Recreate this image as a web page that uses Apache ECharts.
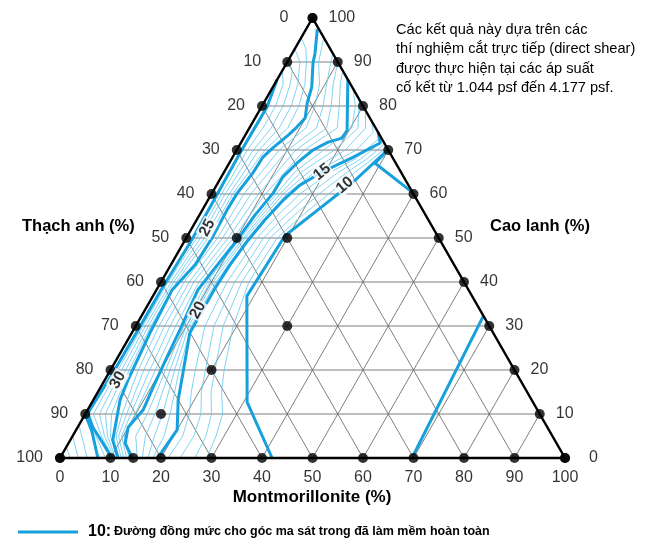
<!DOCTYPE html>
<html><head><meta charset="utf-8">
<script src="https://cdn.jsdelivr.net/npm/echarts@6/dist/echarts.min.js"></script>
<style>html,body{margin:0;padding:0;background:#fff}#c{width:661px;height:554px}</style>
</head><body><div id="c"></div>
<script>
// ---------- DATA (ternary points as [Montmorillonite %, Kaolin %]) ----------
const tickValues = [0,10,20,30,40,50,60,70,80,90,100];
const tickLabels = ['0','10','20','30','40','50','60','70','80','90','100'];
const gridValues = [10,20,30,40,50,60,70,80,90];
const samplePoints = [[10,50],[20,50],[30,30],[20,20],[15,10],[14.5,0]];

const contour10 = [[42,0],[30.7,12.7],[18.6,36.8],[19.3,50.5],[23.1,56.8],[26.6,62.5],[29.8,69.8],[28.9,67],[39.7,60.3]];
const contour10Right = [[69.7,0],[67.7,32.3]];
const contour15 = [[19.4,0],[19.5,1.8],[20,6.4],[16.8,13.2],[14.7,19.3],[11.5,28.4],[11.4,38.2],[11.7,43.9],[12.5,49.5],[13.5,54.1],[14.9,58.6],[16.5,62],[19.4,65],[23.7,68.2],[27.6,71.6],[26,74]];
const contour20 = [[14.3,0],[11.2,3.4],[10,7],[11,10.9],[10.4,16.1],[9.7,23],[9.2,29.1],[8.2,38.2],[9,42.7],[10.3,49.5],[11,55.2],[12.1,60.2],[12.2,63.9],[13.4,67],[15.1,70],[17.2,71.8],[19.5,72.7],[19.6,74.5],[14,86]];
const contour25 = [[11.5,0],[8.4,4.1],[5.3,13.2],[4.6,17.7],[3.6,28.4],[3.1,38.2],[4.8,43.9],[5.1,50],[4.9,56.4],[5,60.2],[5.8,64.8],[6,68.4],[6.9,70.5],[8.5,73.4],[9.3,75.2],[9.9,77.3],[8.6,80.7],[7.7,84.3],[5.2,89.8],[4.5,92],[2.2,97.5]];
const contour30 = [[10.3,0],[7.2,3],[3,7],[0.4,10.2],[0.8,19.5],[0.9,29.8],[0.9,38.2],[1.3,49.5],[1.2,57],[1.0,69.3],[1.1,79.8],[0,86]];
const contour35 = [[7.5,0],[3.4,5.9],[0,10]];

const thin11 = [[29.1,0],[28.4,5],[27.2,10],[24.5,15],[22.5,20],[19.3,30],[17.4,40],[18.0,50],[20.3,55],[23.2,60],[26.0,65],[27.9,68],[29.4,70.6]];
const thin12 = [[26.7,0],[26.4,5],[25.0,10],[22.4,15],[20.7,20],[17.3,30],[16.0,40],[16.6,50],[18.7,55],[21.3,60],[24.4,65],[26.8,68],[28.6,71.4]];
const thin13 = [[23.8,0],[24.0,5],[22.9,10],[20.5,15],[18.8,20],[15.5,30],[14.6,40],[15.3,50],[17.1,55],[19.4,60],[22.7,65],[25.6,68],[27.8,72.2]];
const thin14 = [[21.4,0],[21.8,5],[20.6,10],[18.5,15],[16.8,20],[13.7,30],[13.1,40],[14.0,50],[15.5,55],[17.5,60],[21.1,65],[24.5,68],[27,73]];
const thin16 = [[18.4,0],[18.1,5],[16.8,10],[13.6,20],[11.0,30],[10.9,40],[12.2,50],[14.9,60],[18.0,65],[23.7,70],[25.0,74],[23.5,76.5]];
const thin17 = [[17.4,0],[16.2,5],[15.3,10],[12.7,20],[10.5,30],[10.3,40],[11.7,50],[14.2,60],[16.7,65],[21.5,70],[23.0,75],[21,79]];
const thin18 = [[16.3,0],[14.4,5],[13.8,10],[11.8,20],[10.0,30],[9.7,40],[11.3,50],[13.5,60],[15.3,65],[19.4,70],[21.5,75],[18.5,81.5]];
const thin19 = [[15.3,0],[12.5,5],[12.3,10],[10.9,20],[9.5,30],[9.1,40],[10.8,50],[12.8,60],[14.0,65],[17.2,70],[20.3,75],[18.5,80],[16,84]];
const thin21 = [[13.7,0],[10.2,5],[9.9,10],[8.9,20],[7.9,30],[7.5,40],[9.3,50],[10.7,60],[13.4,70],[17.4,75],[15.3,80],[13.0,85],[12,88]];
const thin22 = [[13.2,0],[9.7,5],[9.0,10],[7.8,20],[6.8,30],[6.5,40],[8.3,50],[9.3,60],[11.7,70],[15.3,75],[13.7,80],[11.6,85],[10,90]];
const thin23 = [[12.6,0],[9.1,5],[8.2,10],[6.6,20],[5.7,30],[5.6,40],[7.2,50],[7.8,60],[10.1,70],[13.3,75],[12.1,80],[10.3,85],[8,92]];
const thin24 = [[12.1,0],[8.6,5],[7.3,10],[5.5,20],[4.6,30],[4.6,40],[6.2,50],[6.4,60],[8.4,70],[11.2,75],[10.5,80],[8.9,85],[6.2,90],[4.5,95.5]];
const thin26 = [[11.3,0],[7.5,5],[5.2,10],[3.7,20],[3.0,30],[3.1,40],[4.3,50],[4.2,60],[5.6,70],[7.6,75],[7.3,80],[6.0,85],[3.8,90],[2.2,93],[0,95.5]];
const thin27 = [[11.0,0],[6.9,5],[4.0,10],[3.0,20],[2.5,30],[2.5,40],[3.6,50],[3.5,60],[4.4,70],[5.9,75],[5.8,80],[4.6,85],[2.5,90],[0,93]];
const thin28 = [[10.8,0],[6.3,5],[2.8,10],[2.2,20],[1.9,30],[2.0,40],[2.8,50],[2.7,60],[3.3,70],[4.3,75],[4.2,80],[3.1,85],[2.0,88],[0,90.5]];
const thin29 = [[10.5,0],[5.7,5],[1.6,10],[1.5,20],[1.4,30],[1.4,40],[2.1,50],[2.0,60],[2.1,70],[2.7,75],[2.7,80],[1.7,85],[0,88]];
const thin31 = [[9,0],[4.6,5],[0.3,9.8]];
const thin36 = [[5.4,0],[0,7.5]];
const thin37 = [[3.6,0],[0,5]];
const thin38 = [[2,0],[0,2.5]];

const contourLabelText = ['10','15','20','25','30'];
const contourLabelAt = [[25.4,62],[19.4,65],[10.5,33.6],[3.0,52.3],[2.6,17.7]];

// ---------- LAYOUT / STYLE ----------
const contourLabelAngle = [40,38,62,62,60];
const THICK = '#16a0dc', THIN = '#62c8f0', GRID = '#5e5e5e';
const FONT = '"Liberation Sans", Arial, sans-serif';

const T = p => [p[0] + p[1] / 2, p[1]];
const series = [];
function addLine(pts, color, width, z) {
  series.push({type:'line', data: pts.map(T), showSymbol:false, symbol:'none',
    lineStyle:{color:color, width:width, join:'round'}, z:z, silent:true, animation:false, clip:false});
}
gridValues.forEach(v => {
  addLine([[0,v],[100-v,v]], GRID, 0.8, 1);
  addLine([[v,0],[v,100-v]], GRID, 0.8, 1);
  addLine([[100-v,0],[0,100-v]], GRID, 0.8, 1);
});
[thin11,thin12,thin13,thin14,thin16,thin17,thin18,thin19,thin21,thin22,thin23,thin24,
 thin26,thin27,thin28,thin29,thin31,thin36,thin37,thin38].forEach(t => addLine(t, THIN, 0.8, 2));
[contour10,contour10Right,contour15,contour20,contour25,contour30,contour35].forEach(c => addLine(c, THICK, 3, 3));
addLine([[0,0],[100,0],[0,100],[0,0]], '#000', 2.5, 4);

const dots = [];
tickValues.forEach(v => { dots.push(T([v,0])); dots.push(T([0,v])); dots.push(T([100-v,v])); });
samplePoints.forEach(p => dots.push(T(p)));
series.push({type:'scatter', data:dots, symbolSize:10, itemStyle:{color:'#000'}, z:5, silent:true, animation:false});

const lblStyle = {show:true, color:'#000', fontSize:16, fontFamily:FONT, formatter: p => p.value[2]};
series.push({type:'scatter', symbolSize:0, silent:true, animation:false, z:6,
  data: tickValues.map((v,i) => [v, 0, tickLabels[i]]),
  label: Object.assign({}, lblStyle, {position:'bottom', distance:12})});
series.push({type:'scatter', symbolSize:0, silent:true, animation:false, z:6,
  data: tickValues.map((v,i) => { const q = T([0,100-v]); return {value:[q[0],q[1],tickLabels[i]],
     label: v===0 ? {distance:24} : (v===10 ? {distance:26} : {})}; }),
  label: Object.assign({}, lblStyle, {position:'left', distance:17})});
series.push({type:'scatter', symbolSize:0, silent:true, animation:false, z:6,
  data: tickValues.map((v,i) => { const q = T([100-v,v]); return {value:[q[0],q[1],tickLabels[i]],
     label: v===0 ? {distance:24} : {}}; }),
  label: Object.assign({}, lblStyle, {position:'right', distance:16})});
series.push({type:'scatter', symbolSize:0, silent:true, animation:false, z:7,
  data: contourLabelAt.map((p,i) => { const q = T(p); return {value:[q[0],q[1],contourLabelText[i]],
     label:{rotate:contourLabelAngle[i]}}; }),
  label:{show:true, position:'inside', color:'#000', fontSize:15.5, fontWeight:'bold', fontFamily:FONT,
     backgroundColor:'#fff', padding:[0,1], formatter: p => p.value[2]}});

const chart = echarts.init(document.getElementById('c'), null, {renderer:'canvas'});
chart.setOption({
  animation:false,
  backgroundColor:'#fff',
  grid:{left:60, right:96, top:18, bottom:96},
  xAxis:{type:'value', min:0, max:100, show:false},
  yAxis:{type:'value', min:0, max:100, show:false},
  series: series,
  graphic:[
    {type:'text', x:22, y:226, style:{text:'Thạch anh (%)', font:'bold 16.5px ' + FONT, fill:'#000', verticalAlign:'middle'}},
    {type:'text', x:490, y:226, style:{text:'Cao lanh (%)', font:'bold 16.5px ' + FONT, fill:'#000', verticalAlign:'middle'}},
    {type:'text', x:312, y:497, style:{text:'Montmorillonite (%)', font:'bold 17px ' + FONT, fill:'#000', align:'center', verticalAlign:'middle'}},
    {type:'text', x:396, y:20, style:{text:'Các kết quả này dựa trên các\nthí nghiệm cắt trực tiếp (direct shear)\nđược thực hiện tại các áp suất\ncố kết từ 1.044 psf đến 4.177 psf.',
      font:'14.6px ' + FONT, fill:'#000', lineHeight:19.5}},
    {type:'line', shape:{x1:18, y1:532, x2:78, y2:532}, style:{stroke:THICK, lineWidth:3}},
    {type:'text', x:88, y:532, style:{text:'10:', font:'bold 16px ' + FONT, fill:'#000', verticalAlign:'middle'}},
    {type:'text', x:114, y:532, style:{text:'Đường đồng mức cho góc ma sát trong đã làm mềm hoàn toàn', font:'bold 12.5px ' + FONT, fill:'#000', verticalAlign:'middle'}}
  ]
});
</script></body></html>
